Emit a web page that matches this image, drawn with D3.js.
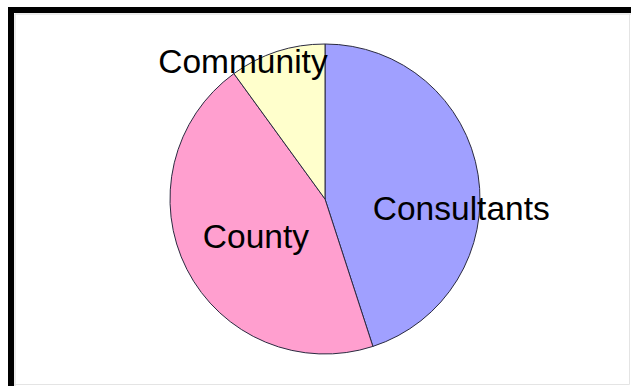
<!DOCTYPE html>
<html>
<head>
<meta charset="utf-8">
<script src="https://cdn.jsdelivr.net/npm/d3@7"></script>
<style>
  body { margin: 0; background: #fff; }
</style>
</head>
<body>
<div id="chart_div"></div>
<script>
// chart data
const categories = ["Consultants", "County", "Community"];
const values = [45, 45, 10];
const sliceColors = ["#a0a0ff", "#ff9fcf", "#ffffcc"];

const width = 631, height = 386;

const svg = d3.select("#chart_div")
  .append("svg")
    .attr("width", width)
    .attr("height", height);

// frame: heavy black on top/left, faint grey on right/bottom
svg.append("path")
  .attr("d", `M11,${height} L11,10 L${width},10`)
  .attr("fill", "none")
  .attr("stroke", "#000")
  .attr("stroke-width", 6);
svg.append("path")
  .attr("d", `M15,14 L${width},14 M15,14 L15,${height}`)
  .attr("fill", "none")
  .attr("stroke", "#d8d8d8")
  .attr("stroke-width", 1);
svg.append("path")
  .attr("d", `M629.5,14 L629.5,384.5 L14,384.5`)
  .attr("fill", "none")
  .attr("stroke", "#e4e4e4")
  .attr("stroke-width", 1);

const cx = 325, cy = 199, radius = 155;

const pie = d3.pie().sort(null).value(d => d.value);
const arcs = pie(categories.map((c, i) => ({name: c, value: values[i], color: sliceColors[i]})));

const arc = d3.arc().innerRadius(0).outerRadius(radius);

const g = svg.append("g").attr("transform", `translate(${cx},${cy})`);

g.selectAll("path.slice")
  .data(arcs)
  .join("path")
    .attr("class", "slice")
    .attr("d", arc)
    .attr("fill", d => d.data.color)
    .attr("stroke", "#2a2a40")
    .attr("stroke-width", 1);

// label placement (radius factor + nudge, like excel puts them)
const labelPlace = {
  Consultants: {k: 0.89, dx: 0, dy: 43},
  County: {k: 0.5, dx: 0, dy: 14},
  Community: {k: 0.92, dx: -38, dy: 10}
};

g.selectAll("text.lbl")
  .data(arcs)
  .join("text")
    .attr("class", "lbl")
    .attr("transform", d => {
      const p = labelPlace[d.data.name];
      const a = (d.startAngle + d.endAngle) / 2;
      const r = radius * p.k;
      return `translate(${Math.sin(a) * r + p.dx},${-Math.cos(a) * r + p.dy})`;
    })
    .attr("text-anchor", "middle")
    .style("font-family", "'Liberation Sans', Arial, sans-serif")
    .style("font-size", "33.5px")
    .style("fill", "#000")
    .text(d => d.data.name);
</script>
</body>
</html>
